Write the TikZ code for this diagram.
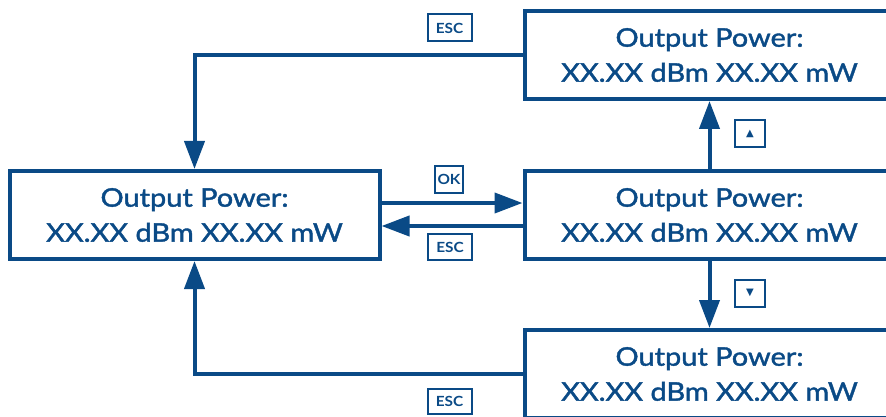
\documentclass[tikz,border=0pt]{standalone}
\usepackage{fontspec}
\setmainfont{Lato}[FakeBold=1.6, FakeStretch=1.13]
\newfontfamily\keyfont{Lato}[FakeStretch=1.1]
\newfontfamily\symfont{DejaVu Sans}
\usetikzlibrary{arrows.meta}
\definecolor{navy}{HTML}{0A4A86}
\tikzset{
  screen/.style={draw=navy, line width=4pt, minimum width=370pt, minimum height=88pt,
    inner sep=0pt, align=center, text=navy, font=\fontsize{25.6}{35}\selectfont},
  conn/.style={draw=navy, line width=4pt, -{Triangle[length=28pt,width=20pt]}},
  keybox/.style={draw=navy, line width=2pt, inner sep=0pt, text=navy,
    font=\keyfont\bfseries\fontsize{14}{14}\selectfont},
}
\begin{document}
\begin{tikzpicture}[x=1pt,y=-1pt]
\useasboundingbox (0,0) rectangle (886,417);
\clip (0,0) rectangle (886,417);
\node[screen] (left) at (194.5,215) {Output Power:\\XX.XX dBm XX.XX mW};
\node[screen] (top) at (709.5,55) {Output Power:\\XX.XX dBm XX.XX mW};
\node[screen] (mid) at (709.5,215) {Output Power:\\XX.XX dBm XX.XX mW};
\node[screen] (bot) at (709.5,374) {Output Power:\\XX.XX dBm XX.XX mW};
\coordinate (okY) at (0,203);
\coordinate (escY) at (0,226);
\draw[conn] (top.west) -| (left.north);
\draw[conn] (bot.west) -| (left.south);
\draw[conn] (left.east |- okY) -- (mid.west |- okY);
\draw[conn] (mid.west |- escY) -- (left.east |- escY);
\draw[conn] (mid.north) -- (top.south);
\draw[conn] (mid.south) -- (bot.north);
\node[keybox, minimum width=44pt, minimum height=27pt] (esc1) at (449.5,28) {ESC};
\node[keybox, minimum width=28pt, minimum height=27pt] (ok) at (449,179) {OK};
\node[keybox, minimum width=44pt, minimum height=26pt] (esc2) at (450,247) {ESC};
\node[keybox, minimum width=44pt, minimum height=25pt] (esc3) at (449.5,401.5) {ESC};
\node[keybox, minimum width=30pt, minimum height=27pt, font=\symfont\fontsize{10}{10}\selectfont] (up) at (750,133.5) {▲};
\node[keybox, minimum width=30pt, minimum height=27pt, font=\symfont\fontsize{10}{10}\selectfont] (down) at (750,293) {▼};
\end{tikzpicture}
\end{document}
